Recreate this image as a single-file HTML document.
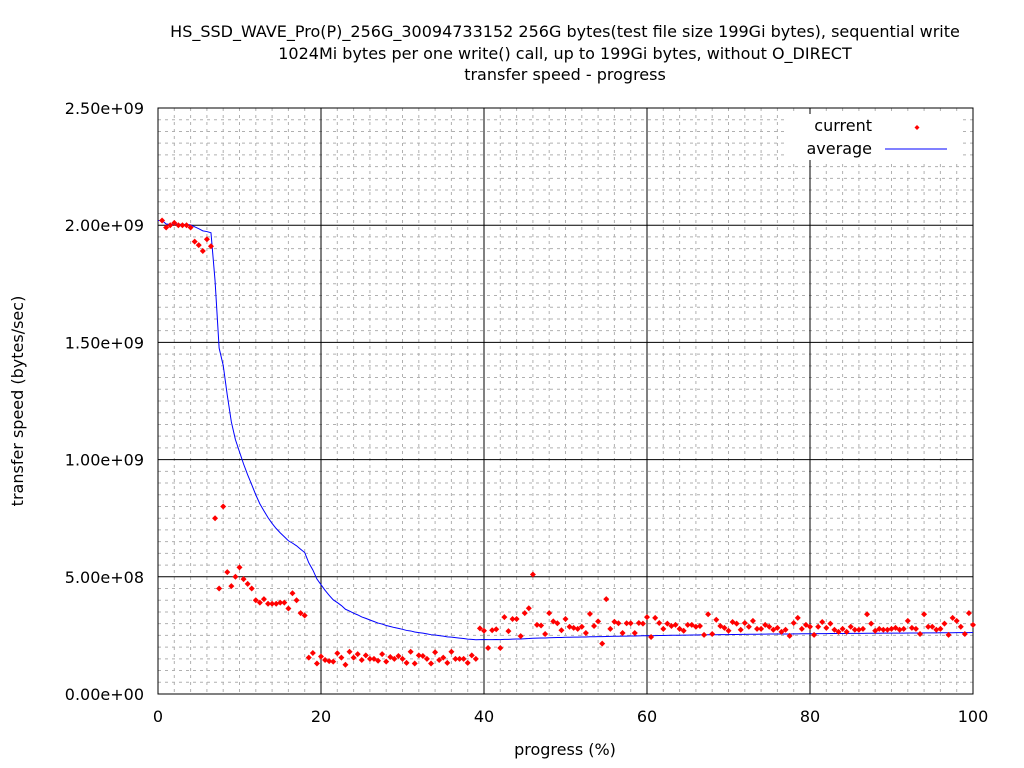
<!DOCTYPE html>
<html><head><meta charset="utf-8"><style>
body{margin:0;background:#fff;}
svg{display:block;font-family:"DejaVu Sans","Liberation Sans",sans-serif;}
</style></head><body>
<svg id="chart" width="1024" height="768" xmlns="http://www.w3.org/2000/svg">
<rect width="1024" height="768" fill="#fff"/>
<g font-size="16" text-anchor="middle" fill="#000">
<text x="565" y="37">HS_SSD_WAVE_Pro(P)_256G_30094733152 256G bytes(test file size 199Gi bytes), sequential write</text>
<text x="565" y="59">1024Mi bytes per one write() call, up to 199Gi bytes, without O_DIRECT</text>
<text x="565" y="80">transfer speed - progress</text>
</g>
<g id="grid"></g>
<g id="axes"></g>
<g id="avg"></g>
<g id="cur"></g>
<g>
<rect x="786" y="114" width="176" height="46" fill="#fff"/>
<text x="872" y="131" font-size="16" text-anchor="end">current</text>
<polygon points="917,125 919.5,127.5 917,130 914.5,127.5" fill="#f00"/>
<text x="872" y="154" font-size="16" text-anchor="end">average</text>
<line x1="885" y1="149" x2="947" y2="149" stroke="#00f" stroke-width="1"/>
</g>
<text transform="translate(23,401) rotate(-90)" font-size="16" text-anchor="middle">transfer speed (bytes/sec)</text>
<text x="565" y="755" font-size="16" text-anchor="middle">progress (%)</text>
</svg>
<script>
const yTickLabels = ["0.00e+00","5.00e+08","1.00e+09","1.50e+09","2.00e+09","2.50e+09"];
const xTickLabels = ["0","20","40","60","80","100"];
const progressStep = 0.5;
const currentSpeed = [20.2,19.9,20.0,20.1,20.0,20.0,20.0,19.9,19.3,19.15,18.9,19.4,19.1,7.5,4.5,8.0,5.2,4.6,5.0,5.4,4.9,4.7,4.5,4.0,3.9,4.05,3.85,3.85,3.85,3.9,3.9,3.65,4.3,4.0,3.45,3.35,
1.55,1.75,1.3,1.6,1.45,1.4,1.38,1.74,1.55,1.25,1.8,1.55,1.7,1.45,1.65,1.5,1.5,1.42,1.7,1.38,1.58,1.5,1.62,1.5,1.33,1.8,1.3,1.65,1.62,1.5,1.3,1.78,1.45,1.55,1.33,1.8,1.5,1.5,1.5,1.33,1.65,1.5,
2.8,2.7,1.96,2.72,2.76,1.96,3.28,2.68,3.2,3.2,2.47,3.45,3.66,5.1,2.95,2.92,2.56,3.45,3.1,3.02,2.72,3.2,2.87,2.82,2.78,2.87,2.6,3.42,2.9,3.1,2.15,4.05,2.78,3.08,3.02,2.6,3.02,3.02,
2.6,3.03,3.0,3.28,2.43,3.25,3.03,2.78,3.0,2.9,2.95,2.78,2.7,2.95,2.95,2.87,2.9,2.52,3.4,2.56,3.17,2.9,2.82,2.7,3.07,3.0,2.74,3.03,2.87,3.12,2.78,2.78,2.95,2.87,2.74,2.82,2.65,2.74,2.48,3.03,3.25,2.78,2.95,2.87,
2.52,2.87,3.07,2.82,3.0,2.74,2.65,2.78,2.65,2.87,2.74,2.74,2.78,3.4,3.0,2.7,2.78,2.74,2.74,2.78,2.82,2.74,2.78,3.12,2.82,2.78,2.56,3.4,2.87,2.87,2.74,2.78,3.0,2.52,3.25,3.12,2.87,2.56,3.45,2.95];
const valueScale = 1e8;

const NS="http://www.w3.org/2000/svg";
const L=158,R=973,T=108,B=694;
const xS=p=>L+(p/100)*(R-L);
const yS=v=>B-(v/2.5e9)*(B-T);
function mk(tag,attrs,parent){const e=document.createElementNS(NS,tag);for(const k in attrs)e.setAttribute(k,attrs[k]);parent.appendChild(e);return e;}
const grid=document.getElementById('grid'),axes=document.getElementById('axes');
for(let i=1;i<50;i++){if(i%10===0)continue;const y=yS(i*0.05e9);
const g=mk('line',{x1:L,x2:R,y1:y,y2:y,stroke:'#b0b0b0','stroke-dasharray':'3,4','stroke-width':1},grid);

}
for(let i=1;i<50;i++){if(i%10===0)continue;const x=xS(i*2);
const g=mk('line',{x1:x,x2:x,y1:T,y2:B,stroke:'#b0b0b0','stroke-dasharray':'3,4','stroke-width':1},grid);

}
yTickLabels.forEach((lab,i)=>{const v=i*0.5e9,y=yS(v);
if(i>0&&i<5){const g=mk('line',{x1:L,x2:R,y1:y,y2:y,stroke:'#000','stroke-width':1},grid);

}
const t=mk('text',{x:144,y:y+6,'font-size':16,'text-anchor':'end'},axes);t.textContent=lab;

});
xTickLabels.forEach((lab,i)=>{const x=xS(+lab);
if(i>0&&i<5){const g=mk('line',{x1:x,x2:x,y1:T,y2:B,stroke:'#000','stroke-width':1},grid);

}
const t=mk('text',{x:x,y:722,'font-size':16,'text-anchor':'middle'},axes);t.textContent=lab;

});
const frame=mk('rect',{x:L,y:T,width:R-L,height:B-T,fill:'none',stroke:'#000','stroke-width':1},axes);


// average line = total bytes / total time (harmonic mean)
let inv=0,pts=[xS(0)+','+yS(currentSpeed[0]*valueScale)];
currentSpeed.forEach((v,i)=>{inv+=1/v;const avg=(i+1)/inv;const p=(i+1)*progressStep;
pts.push(xS(p)+','+yS(avg*valueScale));});
const pl=mk('polyline',{points:pts.join(' '),fill:'none',stroke:'#00f','stroke-width':1},document.getElementById('avg'));


const cur=document.getElementById('cur');
currentSpeed.forEach((v,i)=>{const x=xS((i+1)*progressStep),y=yS(v*valueScale);
const d=mk('polygon',{points:`${x},${y-3} ${x+3},${y} ${x},${y+3} ${x-3},${y}`,fill:'#f00'},cur);

});
</script>
</body></html>
